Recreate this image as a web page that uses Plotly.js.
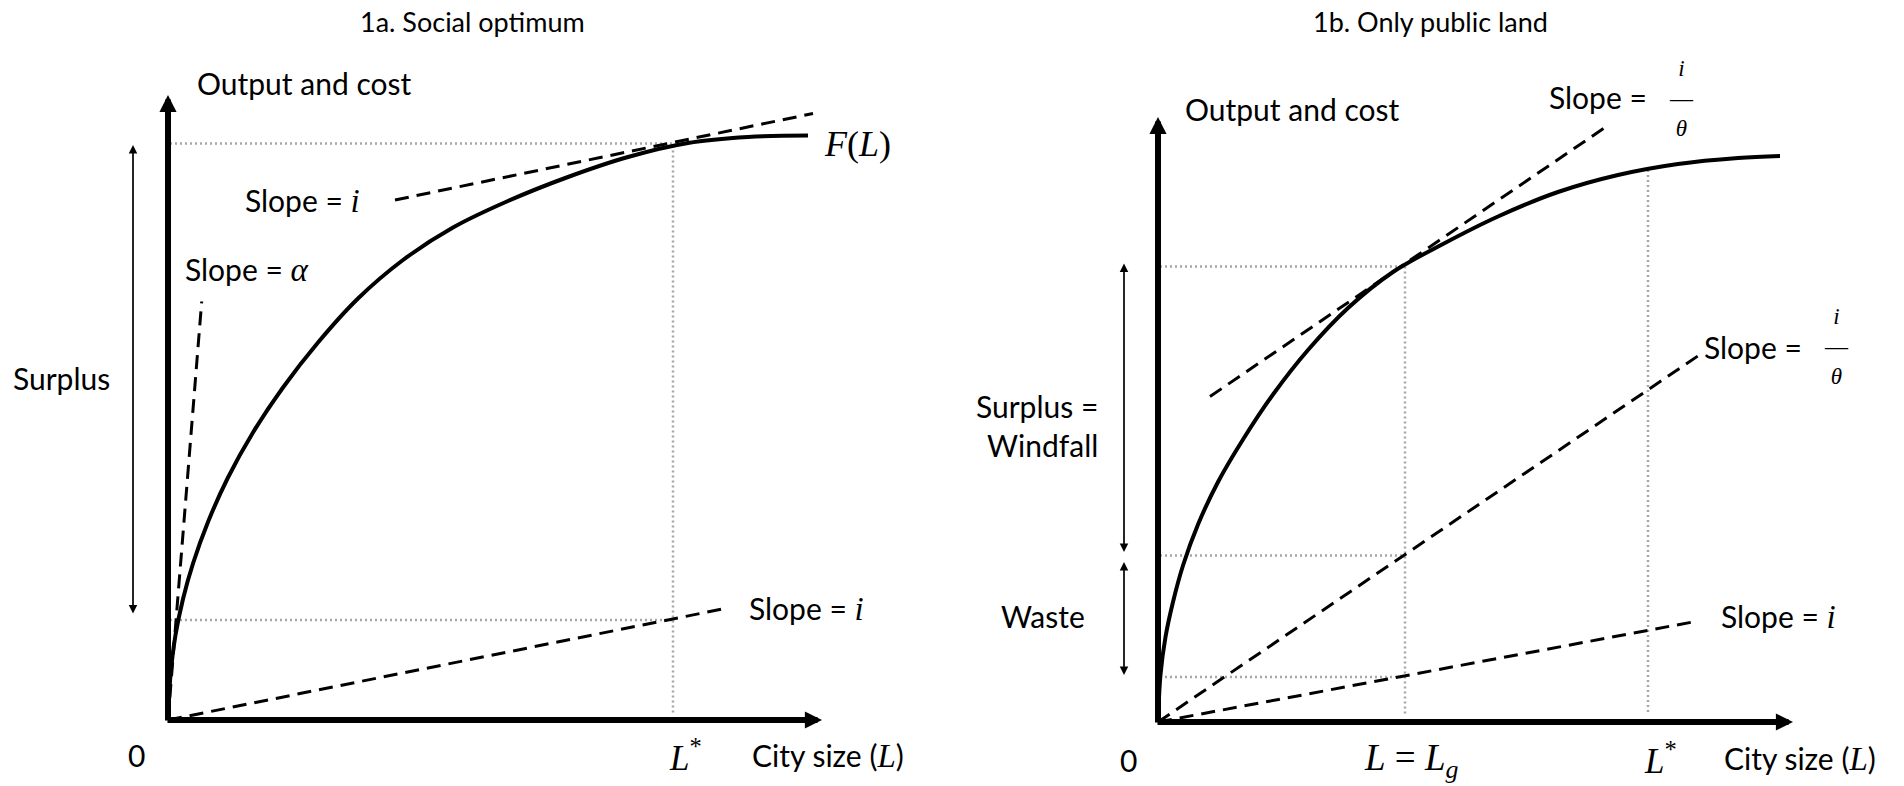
<!DOCTYPE html>
<html>
<head>
<meta charset="utf-8">
<script src="https://cdn.plot.ly/plotly-3.0.1.min.js"></script>
<style>html,body{margin:0;padding:0;background:#fff}#chart{width:1904px;height:786px}</style>
</head>
<body>
<div id="chart"></div>
<script>
// ---------- Panel 1a: Social optimum (units: city size L, output/cost) ----------
const citySize1a   = [0, 0.5, 1.5, 3, 5, 8, 12, 17, 23, 30, 38, 47, 57, 68, 80, 92, 104, 116, 128];
const output1a     = [0, 9, 17, 24.2, 31.3, 39.6, 48.5, 57.5, 66.5, 75.5, 84.3, 92.0, 98.5, 103.8, 108.6, 112.6, 115.4, 116.6, 116.9];
const Lstar1a      = 101;     // optimal city size
const FLstar1a     = 115.3;   // output at L*
const costLstar1a  = 20;      // cost at L*
const costLineL1a  = [0, 111.4];   // slope = i, through origin
const costLineC1a  = [0, 22.3];
const tangentL1a   = [45.4, 129];  // slope = i, tangent at L*
const tangentC1a   = [104, 121.3];
const alphaL1a     = [0, 6.74];    // slope = alpha
const alphaC1a     = [0, 83.7];
const axisTip1a    = [130.8, 125]; // [x-axis end, y-axis end]
const surplus1a    = [115, 21];    // surplus arrow [top, bottom]

// ---------- Panel 1b: Only public land ----------
const citySize1b   = [0, 0.5, 1.5, 3, 5, 8, 12, 17, 23, 30, 38, 47, 57, 68, 80, 92, 104, 116, 124.4];
const output1b     = [0, 9.5, 17, 24, 31.3, 39.5, 48, 56.5, 65.5, 74.4, 82.8, 90.0, 95.6, 101.1, 106, 109.4, 111.6, 112.8, 113.2];
const Lg1b         = 49.4;    // city size under public land
const FLg1b        = 91.1;    // output at Lg
const costThetaLg  = 33.3;    // cost at Lg with slope i/theta
const costILg      = 9.0;     // cost at Lg with slope i
const Lstar1b      = 98;
const FLstar1b     = 110.4;
const tangentL1b   = [10.4, 89.1]; // slope = i/theta, tangent at Lg
const tangentC1b   = [65.1, 118.7];
const thetaLineL1b = [0, 109];     // slope = i/theta, through origin
const thetaLineC1b = [0, 73.9];
const iLineL1b     = [0, 108];     // slope = i, through origin
const iLineC1b     = [0, 20.2];
const axisTip1b    = [127, 121];
const surplus1b    = [91.7, 33.7]; // surplus = windfall arrow
const waste1b      = [32, 9.1];    // waste arrow

// ---------- styles ----------
const SANS = 'Lato, "Open Sans", sans-serif';
const SERIF = '"Liberation Serif", "DejaVu Serif", serif';
const M = s => `<span style="font-family:'Liberation Serif',serif;font-size:33px">${s}</span>`;
const dashed = {color: '#000', width: 3, dash: '14px,8px'};
const dotted = {color: '#a6a6a6', width: 2.5, dash: '2px,3px'};
const FRAC = '<i>i</i><br>—<br><i>θ</i>';

function tr(x, y, line, xa, ya) {
  return {x: x, y: y, mode: 'lines', line: line, xaxis: xa, yaxis: ya, hoverinfo: 'skip', showlegend: false};
}

const curveLine = {color: '#000', width: 4, shape: 'spline', smoothing: 1};
const traces = [
  // 1a
  tr([0.4, Lstar1a, Lstar1a], [FLstar1a, FLstar1a, 1.4], dotted, 'x', 'y'),
  tr([0.4, Lstar1a], [costLstar1a, costLstar1a], dotted, 'x', 'y'),
  tr(costLineL1a, costLineC1a, dashed, 'x', 'y'),
  tr(tangentL1a, tangentC1a, dashed, 'x', 'y'),
  tr(alphaL1a, alphaC1a, dashed, 'x', 'y'),
  tr(citySize1a, output1a, curveLine, 'x', 'y'),
  // 1b
  tr([0.4, Lg1b, Lg1b], [FLg1b, FLg1b, 1.4], dotted, 'x2', 'y2'),
  tr([0.4, Lg1b], [costThetaLg, costThetaLg], dotted, 'x2', 'y2'),
  tr([0.4, Lg1b], [costILg, costILg], dotted, 'x2', 'y2'),
  tr([Lstar1b, Lstar1b], [FLstar1b, 1.4], dotted, 'x2', 'y2'),
  tr(thetaLineL1b, thetaLineC1b, dashed, 'x2', 'y2'),
  tr(iLineL1b, iLineC1b, dashed, 'x2', 'y2'),
  tr(tangentL1b, tangentC1b, dashed, 'x2', 'y2'),
  tr(citySize1b, output1b, curveLine, 'x2', 'y2')
];

function txt(xa, ya, x, y, text, opts) {
  return Object.assign({xref: xa, yref: ya, x: x, y: y, text: text, showarrow: false,
    xanchor: 'left', yanchor: 'middle', font: {family: SANS, size: 30, color: '#000'}}, opts || {});
}
function arrow(xa, ya, x, y, ax, ay, width, size, both) {
  const a = {xref: xa, yref: ya, axref: xa, ayref: ya, x: x, y: y, ax: ax, ay: ay, text: '',
    showarrow: true, arrowhead: 2, arrowsize: size, arrowwidth: width, arrowcolor: '#000'};
  if (both) { a.arrowside = 'end+start'; a.startarrowhead = 2; a.startarrowsize = size; }
  return a;
}

const mathFont = s => ({family: SERIF, size: s, color: '#000'});

const annotations = [
  // titles
  {xref: 'paper', yref: 'paper', x: 472 / 1904, y: 1 - 22 / 786, text: '1a. Social optimum', showarrow: false,
   xanchor: 'center', yanchor: 'middle', font: {family: SANS, size: 27, color: '#000'}},
  {xref: 'paper', yref: 'paper', x: 1430 / 1904, y: 1 - 22 / 786, text: '1b. Only public land', showarrow: false,
   xanchor: 'center', yanchor: 'middle', font: {family: SANS, size: 27, color: '#000'}},

  // 1a axes and arrows
  arrow('x', 'y', 0, axisTip1a[1], 0, -0.4, 6, 0.57),
  arrow('x', 'y', axisTip1a[0], 0, -0.4, 0, 6, 0.57),
  arrow('x', 'y', -7, surplus1a[0], -7, surplus1a[1], 1.7, 1.0, true),
  // 1a labels
  txt('x', 'y', 5.4, 127.4, 'Output and cost'),
  txt('x', 'y', 38.8, 104, 'Slope = ' + M('<i>i</i>'), {xanchor: 'right'}),
  txt('x', 'y', 3, 90.2, 'Slope = ' + M('<i>α</i>')),
  txt('x', 'y', 115.7, 22.3, 'Slope = ' + M('<i>i</i>')),
  txt('x', 'y', 130.7, 115.3, '<i>F</i>(<i>L</i>)', {font: mathFont(36)}),
  txt('x', 'y', -6.3, -7, '0', {xanchor: 'center'}),
  txt('x', 'y', 103.4, -7, '<i>L</i><sup>*</sup>', {xanchor: 'center', font: mathFont(35)}),
  txt('x', 'y', 116.4, -7, 'City size (' + M('<i>L</i>') + ')'),
  txt('x', 'y', -21.4, 68.4, 'Surplus', {xanchor: 'center'}),

  // 1b axes and arrows
  arrow('x2', 'y2', 0, axisTip1b[1], 0, -0.4, 6, 0.57),
  arrow('x2', 'y2', axisTip1b[0], 0, -0.4, 0, 6, 0.57),
  arrow('x2', 'y2', -6.8, surplus1b[0], -6.8, surplus1b[1], 1.7, 1.0, true),
  arrow('x2', 'y2', -6.8, waste1b[0], -6.8, waste1b[1], 1.7, 1.0, true),
  // 1b labels
  txt('x2', 'y2', 5, 122.7, 'Output and cost'),
  txt('x2', 'y2', 98.2, 125, 'Slope =', {xanchor: 'right'}),
  txt('x2', 'y2', 104.6, 124.7, FRAC, {xanchor: 'center', font: mathFont(23)}),
  txt('x2', 'y2', 129.2, 75, 'Slope =', {xanchor: 'right'}),
  txt('x2', 'y2', 135.6, 75.1, FRAC, {xanchor: 'center', font: mathFont(23)}),
  txt('x2', 'y2', 112.2, 21.2, 'Slope = ' + M('<i>i</i>')),
  txt('x2', 'y2', -11.6, 59.4, 'Surplus =<br>Windfall', {xanchor: 'right', align: 'right'}),
  txt('x2', 'y2', -23, 21.2, 'Waste', {xanchor: 'center'}),
  txt('x2', 'y2', -6, -7.6, '0', {xanchor: 'center'}),
  txt('x2', 'y2', 50.7, -7.6, '<i>L</i> = <i>L</i><sub><i>g</i></sub>', {xanchor: 'center', font: mathFont(37)}),
  txt('x2', 'y2', 100.4, -7.2, '<i>L</i><sup>*</sup>', {xanchor: 'center', font: mathFont(35)}),
  txt('x2', 'y2', 112.7, -7.2, 'City size (' + M('<i>L</i>') + ')')
];

const hidden = {visible: false, showgrid: false, zeroline: false, fixedrange: true};
const layout = {
  width: 1904, height: 786,
  margin: {l: 0, r: 0, t: 0, b: 0},
  paper_bgcolor: '#fff', plot_bgcolor: 'rgba(0,0,0,0)',
  showlegend: false,
  xaxis:  Object.assign({domain: [0, 0.5], range: [-33.6, 156.8]}, hidden),
  yaxis:  Object.assign({domain: [0, 1], range: [-13.2, 144]}, hidden),
  xaxis2: Object.assign({domain: [0.5, 1], range: [-41.2, 149.2], anchor: 'y2'}, hidden),
  yaxis2: Object.assign({domain: [0, 1], range: [-12.8, 144.4], anchor: 'x2'}, hidden),
  annotations: annotations
};

Plotly.newPlot('chart', traces, layout, {staticPlot: true, displayModeBar: false});
</script>
</body>
</html>
